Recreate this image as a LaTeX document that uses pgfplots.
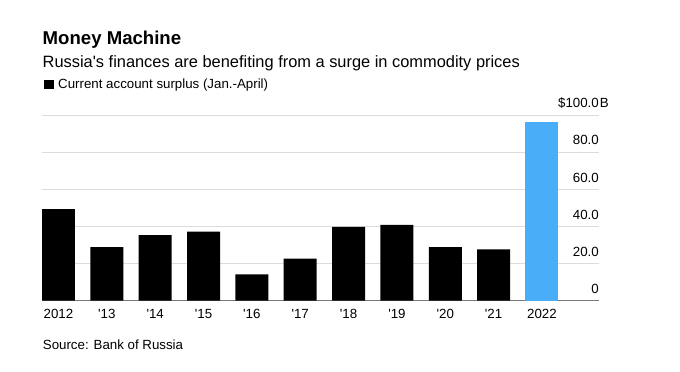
\documentclass[border=0pt]{standalone}
\usepackage{pgfplots}
\pgfplotsset{compat=1.18}
\usepackage{fontspec}
\setmainfont{Liberation Sans}
\definecolor{barblue}{HTML}{4AADF8}
\definecolor{gridc}{HTML}{DCDCDC}
\definecolor{basec}{HTML}{7A7A7A}
\begin{document}
\begin{tikzpicture}
\path[use as bounding box] (0pt,0pt) rectangle (680pt,372pt);
\node[anchor=base west, inner sep=0pt, font=\fontsize{18.6}{22}\selectfont\bfseries] at (42.5pt,327pt) {Money Machine};
\node[anchor=base west, inner sep=0pt, font=\fontsize{16.4}{19}\selectfont] at (42.5pt,304.3pt) {Russia\textquotesingle s finances are benefiting from a surge in commodity prices};
\node[anchor=base west, inner sep=0pt, font=\fontsize{13.3}{16}\selectfont] at (44pt,283pt) {\rule{9.5pt}{9pt}\hspace{4.5pt}Current account surplus (Jan.-April)};
\node[anchor=base west, inner sep=0pt, font=\fontsize{13.3}{16}\selectfont] at (42.7pt,22pt) {Source: Bank of Russia};
\begin{axis}[
  at={(42pt,71.3pt)}, anchor=south west,
  scale only axis, width=557pt, height=185.7pt,
  xmin=-0.341, xmax=11.18, ymin=0, ymax=100,
  axis line style={draw=none},
  ymajorgrids, grid style={gridc, line width=0.8pt},
  major tick length=0pt,
  xtick={0,...,10},
  xticklabels={2012,\textquotesingle13,\textquotesingle14,\textquotesingle15,\textquotesingle16,\textquotesingle17,\textquotesingle18,\textquotesingle19,\textquotesingle20,\textquotesingle21,2022},
  ytick={0,20,40,60,80,100},
  yticklabels={0,20.0,40.0,60.0,80.0,\$100.0\rlap{\kern1.2pt B}},
  yticklabel pos=right,
  yticklabel style={anchor=base east, inner sep=0pt, xshift=0pt, yshift=7.2pt},
  xticklabel style={anchor=base, inner sep=0pt, yshift=-18pt},
  ticklabel style={font=\fontsize{13.3}{16}\selectfont},
  extra y ticks={0}, extra y tick labels={},
  extra y tick style={grid style={basec, line width=1.1pt}},
  ybar, bar width=33pt,
]
\addplot[fill=black, draw=none, bar shift=0pt] coordinates {
(0,49.3) (1,28.8) (2,35.3) (3,37.2) (4,14.2) (5,22.6) (6,39.7) (7,40.8) (8,28.8) (9,27.7)};
\addplot[fill=barblue, draw=none, bar shift=0pt] coordinates {(10,96.0)};
\end{axis}
\end{tikzpicture}
\end{document}
